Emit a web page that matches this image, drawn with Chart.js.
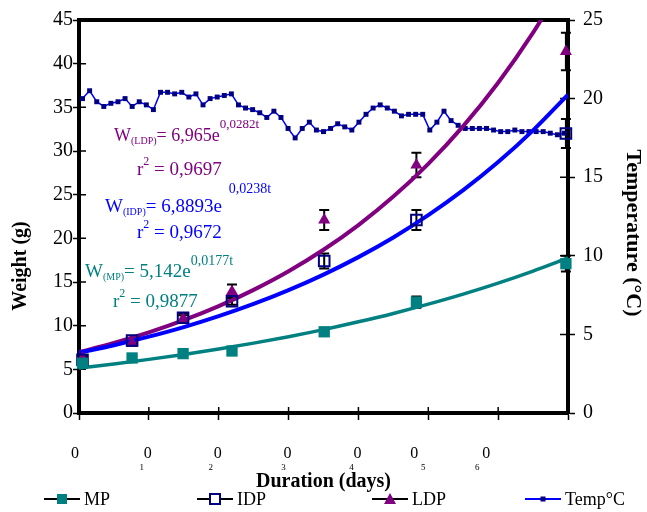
<!DOCTYPE html>
<html>
<head>
<meta charset="utf-8">
<script src="https://cdn.jsdelivr.net/npm/chart.js@4.4.0/dist/chart.umd.min.js"></script>
<style>
  html, body { margin: 0; padding: 0; background: #fff; }
  #wrap { width: 647px; height: 512px; }
</style>
</head>
<body>
<div id="wrap"><canvas id="growthChart" width="647" height="512"></canvas></div>
<script>
// sampling days and mean weights (g)
const sampleDays = [0.5, 7.6, 14.9, 21.9, 35.1, 48.3, 69.7];
const weightMP  = [5.7, 6.3, 6.8, 7.1, 9.3, 12.7, 17.1];
const weightIDP = [6.1, 8.3, 10.9, 12.8, 17.4, 22.1, 32.0];
const weightLDP = [6.3, 8.0, 10.8, 13.9, 22.1, 28.4, 41.4];
const errMP  = [0.15, 0.15, 0.15, 0.2, 0.25, 0.65, 0.9];
const errIDP = [0.3, 0.3, 0.5, 0.4, 0.85, 1.15, 1.65];
const errLDP = [0.3, 0.3, 0.4, 0.8, 1.15, 1.4, 2.15];

// exponential trend lines as drawn (g)
const trendDays = [0, 5, 10, 15, 20, 25, 30, 35, 40, 45, 50, 55, 60, 65, 70];
const trendMP  = [5.14, 5.62, 6.14, 6.71, 7.33, 8.00, 8.74, 9.55, 10.44, 11.40, 12.46, 13.61, 14.87, 16.25, 17.75];
const trendIDP = [6.89, 7.76, 8.74, 9.84, 11.09, 12.49, 14.07, 15.85, 17.85, 20.10, 22.65, 25.51, 28.73, 32.36, 36.45];
const trendLDP = [6.97, 8.02, 9.23, 10.63, 12.24, 14.10, 16.23, 18.69, 21.52, 24.78, 28.53, 32.85, 37.82, 43.55, 50.14];

// daily water temperature (°C)
const tempDays = [1, 2, 3, 4, 5, 6, 7, 8, 9, 10, 11, 12, 13, 14, 15, 16, 17, 18, 19, 20,
  21, 22, 23, 24, 25, 26, 27, 28, 29, 30, 31, 32, 33, 34, 35, 36, 37, 38, 39, 40,
  41, 42, 43, 44, 45, 46, 47, 48, 49, 50, 51, 52, 53, 54, 55, 56, 57, 58, 59, 60,
  61, 62, 63, 64, 65, 66, 67, 68, 69];
const tempC = [20.0, 20.5, 19.8, 19.5, 19.7, 19.8, 20.0, 19.5, 19.8, 19.6, 19.3, 20.4, 20.4, 20.3, 20.4, 20.1, 20.3, 19.6, 20.0, 20.1,
  20.2, 20.3, 19.6, 19.4, 19.3, 19.1, 18.8, 19.2, 18.8, 18.1, 17.5, 18.1, 18.5, 18.0, 17.9, 18.1, 18.4, 18.2, 18.0, 18.5,
  19.0, 19.4, 19.6, 19.4, 19.2, 18.9, 19.0, 19.0, 19.0, 18.0, 18.5, 19.2, 18.6, 18.3, 18.1, 18.1, 18.1, 18.1, 18.0, 17.9,
  17.9, 18.0, 17.9, 17.9, 17.9, 17.9, 17.8, 17.7, 17.8];

const xTickMain = ['0', '0', '0', '0', '0', '0', '0'];
const xTickSub  = ['', '1', '2', '3', '4', '5', '6'];
const xTickValues = [0, 10, 20, 30, 40, 50, 60];

const SERIF = "'Liberation Serif', 'Times New Roman', serif";
const TEAL = '#008080', NAVY = '#000080', PURPLE = '#800080', BLUE = '#0000ff';

function points(xs, ys) {
    return xs.map((x, i) => ({ x: x, y: ys[i] }));
}

// equations written on the plot
const fitLabels = [
    { color: PURPLE, x: 114, y: 141, parts: [['W', 18, 0], ['(LDP)', 10, 3], ['= 6,965e', 18, 0], ['0,0282t', 13, -13]] },
    { color: PURPLE, x: 137, y: 175, parts: [['r', 19, 0], ['2', 12, -10], [' = 0,9697', 19, 0]] },
    { color: BLUE, x: 105, y: 212, parts: [['W', 19, 0], ['(IDP)', 10, 3], ['= 6,8893e', 19, 0], ['  0,0238t', 14, -19]] },
    { color: BLUE, x: 137, y: 238, parts: [['r', 19, 0], ['2', 12, -10], [' = 0,9672', 19, 0]] },
    { color: TEAL, x: 85, y: 277, parts: [['W', 19, 0], ['(MP)', 10, 3], ['= 5,142e', 19, 0], ['0,0177t', 14, -12]] },
    { color: TEAL, x: 113, y: 307, parts: [['r', 19, 0], ['2', 12, -10], [' = 0,9877', 19, 0]] }
];

const legendItems = [
    { text: 'MP', x: 84, marker: 'square', color: TEAL, line: '#000' },
    { text: 'IDP', x: 237, marker: 'open', color: NAVY, line: '#000' },
    { text: 'LDP', x: 412, marker: 'triangle', color: PURPLE, line: '#000' },
    { text: 'Temp°C', x: 565, marker: 'dot', color: NAVY, line: BLUE }
];

function drawMarker(ctx, kind, cx, cy, color) {
    ctx.save();
    if (kind === 'square') {
        ctx.fillStyle = color;
        ctx.fillRect(cx - 5, cy - 5, 10, 10);
    } else if (kind === 'open') {
        ctx.strokeStyle = color;
        ctx.lineWidth = 2;
        ctx.fillStyle = '#fff';
        ctx.fillRect(cx - 5, cy - 5, 10, 10);
        ctx.strokeRect(cx - 5, cy - 5, 10, 10);
    } else if (kind === 'triangle') {
        ctx.fillStyle = color;
        ctx.beginPath();
        ctx.moveTo(cx, cy - 6);
        ctx.lineTo(cx + 6, cy + 5);
        ctx.lineTo(cx - 6, cy + 5);
        ctx.closePath();
        ctx.fill();
    } else {
        ctx.fillStyle = color;
        ctx.fillRect(cx - 2.5, cy - 2.5, 5, 5);
    }
    ctx.restore();
}

const decorPlugin = {
    id: 'decor',
    beforeDatasetsDraw(chart) {
        const { ctx, chartArea: a, scales } = chart;
        ctx.save();
        ctx.strokeStyle = '#000';
        // top frame line
        ctx.lineWidth = 4;
        ctx.beginPath();
        ctx.moveTo(a.left - 2, a.top);
        ctx.lineTo(a.right + 2, a.top);
        ctx.stroke();
        // tick marks crossing into the plot
        ctx.lineWidth = 1.5;
        ctx.beginPath();
        scales.y.ticks.forEach(t => {
            const py = scales.y.getPixelForValue(t.value);
            ctx.moveTo(a.left, py); ctx.lineTo(a.left + 7, py);
        });
        scales.yTemp.ticks.forEach(t => {
            const py = scales.yTemp.getPixelForValue(t.value);
            ctx.moveTo(a.right, py); ctx.lineTo(a.right - 8, py);
        });
        scales.x.ticks.forEach(t => {
            const px = scales.x.getPixelForValue(t.value);
            ctx.moveTo(px, a.bottom); ctx.lineTo(px, a.bottom - 6);
        });
        ctx.stroke();
        // error bars
        ctx.lineWidth = 2;
        chart.data.datasets.forEach(ds => {
            if (!ds.errors) return;
            ds.data.forEach((p, i) => {
                const px = scales.x.getPixelForValue(p.x);
                const top = scales.y.getPixelForValue(p.y + ds.errors[i]);
                const bot = scales.y.getPixelForValue(p.y - ds.errors[i]);
                ctx.beginPath();
                ctx.moveTo(px, top); ctx.lineTo(px, bot);
                ctx.moveTo(px - 5, top); ctx.lineTo(px + 5, top);
                ctx.moveTo(px - 5, bot); ctx.lineTo(px + 5, bot);
                ctx.stroke();
            });
        });
        ctx.restore();
    },
    afterDraw(chart) {
        const { ctx, chartArea: a, scales } = chart;
        ctx.save();
        ctx.fillStyle = '#000';

        // x tick labels, as printed
        const nudge = [-4, -1, -1, -1, -1, -14, -12];
        const subNudge = [0, -6, -7, -4, -6, 9, -9];
        ctx.textAlign = 'center';
        ctx.textBaseline = 'middle';
        xTickValues.forEach((v, i) => {
            const px = scales.x.getPixelForValue(v) + nudge[i];
            ctx.font = '16px ' + SERIF;
            ctx.fillText(xTickMain[i], px, 454);
            ctx.font = '9px ' + SERIF;
            ctx.fillText(xTickSub[i], px + subNudge[i], 468);
        });

        // axis titles
        ctx.font = 'bold 20px ' + SERIF;
        ctx.fillText('Duration (days)', (a.left + a.right) / 2, 482);
        ctx.save();
        ctx.translate(21, 266);
        ctx.rotate(-Math.PI / 2);
        ctx.fillText('Weight (g)', 0, 0);
        ctx.restore();
        ctx.save();
        ctx.font = 'bold 22px ' + SERIF;
        ctx.translate(633, 233);
        ctx.rotate(Math.PI / 2);
        ctx.fillText('Temperature (°C)', 0, 0);
        ctx.restore();

        // regression equations
        ctx.textAlign = 'left';
        ctx.textBaseline = 'alphabetic';
        fitLabels.forEach(lab => {
            let x = lab.x;
            ctx.fillStyle = lab.color;
            lab.parts.forEach(([t, size, dy]) => {
                ctx.font = size + 'px ' + SERIF;
                ctx.fillText(t, x, lab.y + dy);
                x += ctx.measureText(t).width;
            });
        });

        // legend
        const ly = 499;
        ctx.textBaseline = 'middle';
        ctx.font = '18px ' + SERIF;
        legendItems.forEach(it => {
            ctx.strokeStyle = it.line;
            ctx.lineWidth = 2;
            ctx.beginPath();
            ctx.moveTo(it.x - 40, ly);
            ctx.lineTo(it.x - 4, ly);
            ctx.stroke();
            drawMarker(ctx, it.marker, it.x - 22, ly, it.color);
            ctx.fillStyle = '#000';
            ctx.fillText(it.text, it.x, ly + 1);
        });
        ctx.restore();
    }
};

Chart.defaults.font.family = SERIF;
Chart.defaults.color = '#000';

new Chart(document.getElementById('growthChart').getContext('2d'), {
    type: 'scatter',
    data: {
        datasets: [
            {
                label: 'MP', data: points(sampleDays, weightMP), errors: errMP,
                pointStyle: 'rect', pointRadius: 8, backgroundColor: TEAL, borderColor: TEAL,
                borderWidth: 0, clip: false, order: 1
            },
            {
                label: 'IDP', data: points(sampleDays, weightIDP), errors: errIDP,
                pointStyle: 'rect', pointRadius: 7.5, backgroundColor: 'rgba(0,0,0,0)', borderColor: NAVY,
                borderWidth: 2, clip: false, order: 1
            },
            {
                label: 'LDP', data: points(sampleDays, weightLDP), errors: errLDP,
                pointStyle: 'triangle', pointRadius: 7, backgroundColor: PURPLE, borderColor: PURPLE,
                borderWidth: 0, clip: false, order: 1
            },
            {
                label: 'MP trend', data: points(trendDays, trendMP), showLine: true,
                borderColor: TEAL, borderWidth: 3.5, pointRadius: 0, cubicInterpolationMode: 'monotone', order: 5
            },
            {
                label: 'IDP trend', data: points(trendDays, trendIDP), showLine: true,
                borderColor: BLUE, borderWidth: 4, pointRadius: 0, cubicInterpolationMode: 'monotone', order: 5
            },
            {
                label: 'LDP trend', data: points(trendDays, trendLDP), showLine: true,
                borderColor: PURPLE, borderWidth: 4, pointRadius: 0, cubicInterpolationMode: 'monotone', order: 5
            },
            {
                type: 'line', label: 'Temp°C', data: tempC, xAxisID: 'xTemp', yAxisID: 'yTemp',
                borderColor: BLUE, borderWidth: 1.5, pointStyle: 'rect', pointRadius: 3.5,
                pointBackgroundColor: NAVY, pointBorderColor: NAVY, pointBorderWidth: 0,
                tension: 0, clip: false, order: 10
            }
        ]
    },
    options: {
        responsive: false,
        animation: false,
        devicePixelRatio: 1,
        layout: { padding: { top: 20, left: 0, right: 0, bottom: 0 } },
        plugins: { legend: { display: false }, tooltip: { enabled: false } },
        scales: {
            x: {
                type: 'linear', position: 'bottom', min: 0, max: 70,
                ticks: { stepSize: 10, display: false },
                grid: { drawOnChartArea: false, tickLength: 7, tickWidth: 1.5, tickColor: '#000' },
                border: { width: 4, color: '#000' },
                afterFit(scale) { scale.height = 99; }
            },
            xTemp: {
                type: 'category', labels: tempDays, offset: true, display: false
            },
            y: {
                position: 'left', min: 0, max: 45,
                ticks: { stepSize: 5, font: { size: 20 }, padding: 0 },
                grid: { drawOnChartArea: false, tickLength: 6, tickWidth: 1.5, tickColor: '#000' },
                border: { width: 4, color: '#000' },
                afterFit(scale) { scale.width = 79; }
            },
            yTemp: {
                position: 'right', min: 0, max: 25,
                ticks: { stepSize: 5, font: { size: 20 }, padding: 8 },
                grid: { drawOnChartArea: false, tickLength: 7, tickWidth: 1.5, tickColor: '#000' },
                border: { width: 4, color: '#000' },
                afterFit(scale) { scale.width = 79; }
            }
        }
    },
    plugins: [decorPlugin]
});
</script>
</body>
</html>
